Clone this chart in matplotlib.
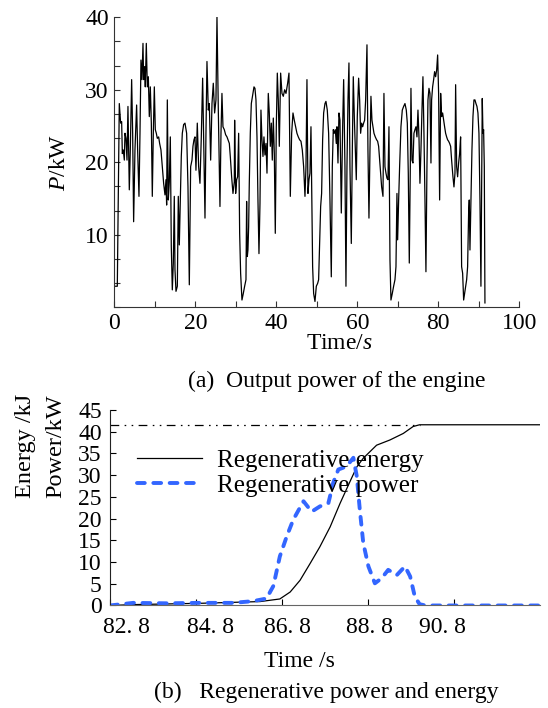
import matplotlib
matplotlib.use('Agg')
import matplotlib.pyplot as plt
from matplotlib.ticker import FixedLocator, MultipleLocator
from matplotlib.transforms import ScaledTranslation

plt.rcParams['font.family'] = ['Liberation Serif', 'DejaVu Serif']
plt.rcParams['mathtext.fontset'] = 'custom'
plt.rcParams['mathtext.rm'] = 'Liberation Serif'
plt.rcParams['mathtext.it'] = 'Liberation Serif:italic'

# ---- (a) engine output power ----
engine_t = [
    0.16, 0.74, 1.23, 1.56, 1.81, 1.98, 2.22, 2.47, 2.63, 2.88, 3.13, 3.37, 3.70, 3.95,
    4.28, 4.53, 4.77, 5.10, 5.51, 5.76, 6.09, 6.34, 6.58, 6.83, 7.08, 7.24, 7.49, 7.65,
    7.90, 8.15, 8.40, 8.64, 8.89, 9.14, 9.38, 9.63, 9.88, 10.12, 10.37, 10.62, 10.95,
    11.19, 11.52, 11.85, 12.18, 12.51, 12.76, 12.92, 13.09, 13.33, 13.58, 13.83, 14.07,
    14.32, 14.57, 14.81, 14.98, 15.23, 15.56, 15.80, 16.05, 16.30, 16.54, 16.79, 17.12,
    17.45, 17.86, 18.19, 18.52, 18.85, 19.18, 19.42, 19.67, 19.92, 20.16, 20.49, 20.82,
    21.15, 21.48, 21.81, 22.06, 22.39, 22.63, 22.88, 23.21, 23.46, 23.79, 24.12, 24.44,
    24.77, 25.10, 25.35, 25.68, 26.09, 26.34, 26.58, 26.83, 27.16, 27.49, 27.82, 28.07,
    28.40, 28.64, 28.97, 29.30, 29.63, 29.71, 29.96, 30.21, 30.45, 30.70, 30.95, 31.19,
    31.52, 31.85, 32.18, 32.51, 32.67, 32.84, 33.00, 33.17, 33.33, 33.58, 33.83, 34.16,
    34.49, 34.73, 34.98, 35.23, 35.47, 35.72, 35.97, 36.21, 36.46, 36.71, 36.95, 37.20,
    37.45, 37.70, 38.02, 38.27, 38.52, 38.77, 39.01, 39.26, 39.51, 39.75, 40.00, 40.25,
    40.49, 40.74, 41.07, 41.40, 41.73, 42.06, 42.39, 42.80, 43.13, 43.46, 43.79, 44.12,
    44.44, 44.77, 45.10, 45.43, 45.76, 46.09, 46.42, 46.75, 47.08, 47.33, 47.57, 47.82,
    48.07, 48.31, 48.56, 48.72, 48.97, 49.22, 49.55, 49.88, 50.21, 50.45, 50.95, 51.19,
    51.44, 51.69, 52.02, 52.26, 52.59, 52.92, 53.25, 53.58, 53.83, 54.07, 54.32, 54.57,
    54.81, 54.98, 55.23, 55.47, 55.72, 56.05, 56.38, 56.63, 56.95, 57.20, 57.45, 57.70,
    57.94, 58.19, 58.52, 58.77, 59.01, 59.26, 59.51, 59.75, 60.00, 60.33, 60.58, 60.82,
    61.07, 61.32, 61.56, 61.81, 62.06, 62.39, 62.63, 62.88, 63.13, 63.37, 63.62, 63.87,
    64.12, 64.44, 64.77, 65.02, 65.27, 65.51, 65.76, 66.01, 66.34, 66.58, 66.83, 67.08,
    67.33, 67.57, 67.82, 68.07, 68.31, 68.64, 68.97, 69.30, 69.55, 69.79, 69.96, 70.21,
    70.45, 70.78, 71.11, 71.44, 71.77, 72.10, 72.35, 72.59, 72.84, 73.09, 73.25, 73.50,
    73.74, 73.99, 74.24, 74.49, 74.73, 74.98, 75.23, 75.47, 75.72, 75.97, 76.21, 76.46,
    76.71, 76.95, 77.20, 77.45, 77.70, 77.94, 78.19, 78.35, 78.60, 78.85, 79.09, 79.34,
    79.59, 79.84, 80.08, 80.33, 80.58, 80.82, 81.07, 81.32, 81.56, 81.81, 82.06, 82.30,
    82.55, 82.80, 83.05, 83.29, 83.62, 83.87, 84.12, 84.28, 84.53, 84.77, 85.02, 85.27,
    85.51, 85.76, 86.01, 86.26, 86.50, 86.75, 87.00, 87.24, 87.49, 87.65, 87.82, 88.07,
    88.31, 88.56, 88.81, 89.05, 89.30, 89.55, 89.79, 90.04, 90.29, 90.53, 90.70, 90.86,
    91.03, 91.19, 91.36, 91.52,
]
engine_p = [
    2.9, 2.9, 28.1, 25.4, 25.6, 21.2, 21.7, 20.3, 24.0, 23.3, 20.3, 27.7, 16.2, 21.7,
    31.4, 24.0, 11.8, 21.7, 27.9, 21.7, 15.3, 24.0, 34.1, 31.4, 36.4, 31.4, 33.2, 30.4,
    36.4, 30.4, 31.8, 26.3, 30.4, 25.4, 15.3, 24.0, 30.4, 24.5, 24.0, 23.3, 23.5,
    22.6, 21.7, 19.4, 17.1, 15.5, 17.6, 14.1, 28.6, 14.8, 17.3, 23.5, 8.4,
    2.4, 6.1, 15.3, 5.2, 2.2, 2.9, 15.3, 8.6, 14.8, 20.8, 24.0, 25.2,
    25.4, 24.0, 16.6, 3.1, 19.4, 20.3, 22.2, 23.1, 23.5, 18.9, 25.4, 19.4,
    17.1, 23.5, 31.6, 23.1, 12.3, 24.0, 33.9, 27.2, 28.1, 20.3, 28.1, 30.9,
    26.8, 28.6, 40.1, 27.2, 13.9, 24.0, 29.5, 24.9, 24.5, 23.8, 23.5, 23.1,
    22.6, 20.8, 18.0, 15.7, 17.3, 25.8, 15.7, 17.6, 18.0, 24.0, 10.2, 4.7,
    1.0, 1.9, 2.9, 3.8, 14.6, 7.0, 7.9, 11.1, 17.1, 24.0, 28.1, 29.3,
    30.4, 30.2, 28.6, 23.5, 14.8, 7.4, 14.3, 27.2, 23.1, 20.8, 23.5, 21.0,
    22.6, 18.5, 29.5, 26.8, 22.2, 25.4, 20.3, 26.1, 21.2, 10.2, 24.9, 32.3,
    28.6, 22.2, 32.3, 29.5, 29.1, 30.0, 29.5, 30.9, 32.3, 15.3, 24.0, 26.8,
    25.8, 24.9, 24.0, 23.5, 23.1, 22.9, 21.7, 19.4, 15.3, 19.4, 31.4, 15.7,
    17.6, 18.5, 24.9, 17.1, 5.6, 1.9, 0.8, 2.9, 3.3, 3.8, 13.9, 15.7,
    23.1, 26.8, 28.1, 28.4, 27.2, 24.0, 14.8, 4.2, 19.4, 24.5, 24.0, 24.5,
    22.6, 24.9, 19.9, 26.8, 25.8, 13.0, 24.9, 31.4, 19.4, 2.9, 19.4, 28.6,
    33.7, 19.4, 8.8, 21.7, 31.8, 26.3, 21.7, 17.6, 26.3, 31.6, 28.6, 24.0,
    25.4, 24.9, 25.4, 25.8, 28.6, 36.2, 21.7, 12.3, 21.7, 29.1, 25.8, 24.9,
    24.0, 23.5, 23.1, 22.9, 22.2, 20.3, 18.5, 16.6, 15.3, 29.5, 19.4, 18.5,
    17.8, 17.6, 24.9, 6.5, 1.0, 1.9, 2.9, 3.8, 5.6, 15.7, 9.3, 14.8,
    19.4, 24.9, 27.2, 27.7, 28.1, 27.2, 25.4, 18.5, 6.1, 19.4, 30.2, 20.3,
    19.9, 24.0, 24.5, 24.9, 23.5, 27.2, 23.5, 17.1, 21.7, 27.2, 31.8, 24.0,
    14.8, 4.9, 19.4, 28.6, 30.2, 29.5, 19.9, 28.6, 30.4, 31.4, 32.5, 31.8,
    32.7, 34.8, 29.5, 14.8, 29.5, 26.3, 26.8, 25.8, 24.9, 24.0, 23.5, 23.1,
    22.9, 22.6, 22.2, 20.3, 18.0, 16.6, 18.5, 30.7, 19.4, 18.0, 19.9, 21.2,
    23.5, 5.6, 4.7, 1.0, 1.9, 2.9, 3.8, 5.6, 13.0, 14.8, 7.9, 14.8,
    21.7, 26.3, 28.6, 28.6, 28.1, 27.7, 26.8, 24.0, 14.8, 2.9, 15.7, 28.8,
    24.0, 24.5, 19.4, 0.6,
]

# ---- (b) regenerative braking window ----
energy_t = [82.8, 83.34, 84.89, 86.29, 86.75, 86.99, 87.22, 87.45, 87.68, 87.92, 88.15,
            88.38, 88.54, 88.69, 89.0, 89.31, 89.62, 89.85, 90.0, 92.8]
energy_kj = [0.0, 0.2, 0.5, 0.9, 1.5, 3.1, 5.8, 9.6, 13.5, 18.1, 23.5,
             28.5, 31.9, 33.9, 36.9, 38.1, 39.6, 41.2, 41.6, 41.6]

power_t = [82.8, 83.34, 84.12, 84.89, 85.66, 86.13, 86.44, 86.6, 86.75, 86.91, 87.06,
           87.3, 87.49, 87.68, 87.88, 87.99, 88.11, 88.3, 88.46, 88.54, 88.61, 88.69,
           88.81, 88.96, 89.12, 89.27, 89.47, 89.66, 89.78, 89.89, 90.0, 90.13, 92.8]
power_kw = [0.0, 0.6, 0.5, 0.6, 0.6, 1.0, 1.6, 4.5, 11.3, 15.9, 19.7,
            24.0, 21.6, 22.8, 23.6, 28.2, 31.3, 32.0, 34.0, 29.7, 22.0, 14.4,
            9.0, 5.1, 6.3, 8.2, 7.0, 9.0, 6.7, 2.0, 0.3, 0.0, 0.0]

b_ticks = [82.8, 84.8, 86.8, 88.8, 90.8]
b_ticklabels = ['82. 8', '84. 8', '86. 8', '88. 8', '90. 8']

blue = '#3366ff'
fs = 17

fig = plt.figure(figsize=(5.48, 7.08), dpi=100)

# ---------------- (a) ----------------
ax1 = fig.add_axes([0.2086, 0.566, 0.739, 0.4096])
ax1.plot(engine_t, engine_p, color='black', lw=0.9)
ax1.set_xlim(0, 100)
ax1.set_ylim(0, 40)
ax1.xaxis.set_major_locator(MultipleLocator(20))
ax1.xaxis.set_minor_locator(MultipleLocator(10))
ax1.yaxis.set_major_locator(FixedLocator([10, 20, 30, 40]))
ax1.yaxis.set_minor_locator(MultipleLocator(10 / 3))
ax1.tick_params(which='both', direction='in', length=4, width=0.8, color='#333333',
                labelsize=fs, pad=4)
for s in ['top', 'right']:
    ax1.spines[s].set_visible(False)
for s in ['left', 'bottom']:
    ax1.spines[s].set_color('#333333')
ax1.set_ylabel('$P$/kW', fontsize=fs)
ax1.yaxis.set_label_coords(-0.11, 0.5)
ax1.set_xlabel('Time/$s$', fontsize=fs)
ax1.xaxis.set_label_coords(0.557, -0.09)
fig.text(0.615, 1 - 381 / 708, '(a)  Output power of the engine', fontsize=fs,
         ha='center', va='center')

# ---------------- (b) ----------------
ax2 = fig.add_axes([0.2007, 0.1448, 0.7847, 0.2761])
e_final = energy_kj[-1]
t_full = energy_t[energy_kj.index(e_final)]
ax2.plot([energy_t[0], t_full], [e_final, e_final], color='black', lw=0.9,
         linestyle=(0, (7, 4.3, 1.3, 4.3, 1.3, 4.3)))
ax2.plot(energy_t, energy_kj, color='black', lw=0.9, label='Regenerative energy')
ax2.plot(power_t, power_kw, color=blue, lw=2.8, linestyle=(0, (2, 2.2)),
         dash_capstyle='round', label='Regenerative power')
ax2.set_xlim(82.8, 92.8)
ax2.set_ylim(0, 45)
ax2.set_xticks(b_ticks)
ax2.set_xticklabels(b_ticklabels)
ax2.yaxis.set_major_locator(MultipleLocator(5))
ax2.tick_params(direction='in', length=4, width=0.8, labelsize=fs)
ax2.tick_params(axis='x', pad=8)
ax2.tick_params(axis='y', pad=6)
# tick labels in the original sit a little off their ticks
for lab, dx in zip(ax2.get_xticklabels(), [11.5, 10.8, 3.6, 0.7, -8.6]):
    lab.set_transform(lab.get_transform() + ScaledTranslation(dx / 72, 0, fig.dpi_scale_trans))
for s in ['top', 'right']:
    ax2.spines[s].set_visible(False)
ax2.spines['bottom'].set_color('#666666')
ax2.spines['left'].set_color('#222222')
ax2.legend(loc='upper left', bbox_to_anchor=(0.062, 0.80), frameon=False, fontsize=18,
           handlelength=2.6, handletextpad=0.6, labelspacing=0.1, borderpad=0,
           borderaxespad=0)
ax2.set_xlabel('Time /s', fontsize=fs)
ax2.xaxis.set_label_coords(0.44, -0.235)
fig.text(25 / 548, 1 - 498 / 708, 'Energy /kJ', rotation=90, fontsize=17.5,
         ha='center', va='bottom')
fig.text(56 / 548, 1 - 498 / 708, 'Power/kW', rotation=90, fontsize=17.5,
         ha='center', va='bottom')
fig.text(0.595, 1 - 692 / 708, '(b)   Regenerative power and energy', fontsize=fs,
         ha='center', va='center')

fig.savefig('out.png', dpi=100)
